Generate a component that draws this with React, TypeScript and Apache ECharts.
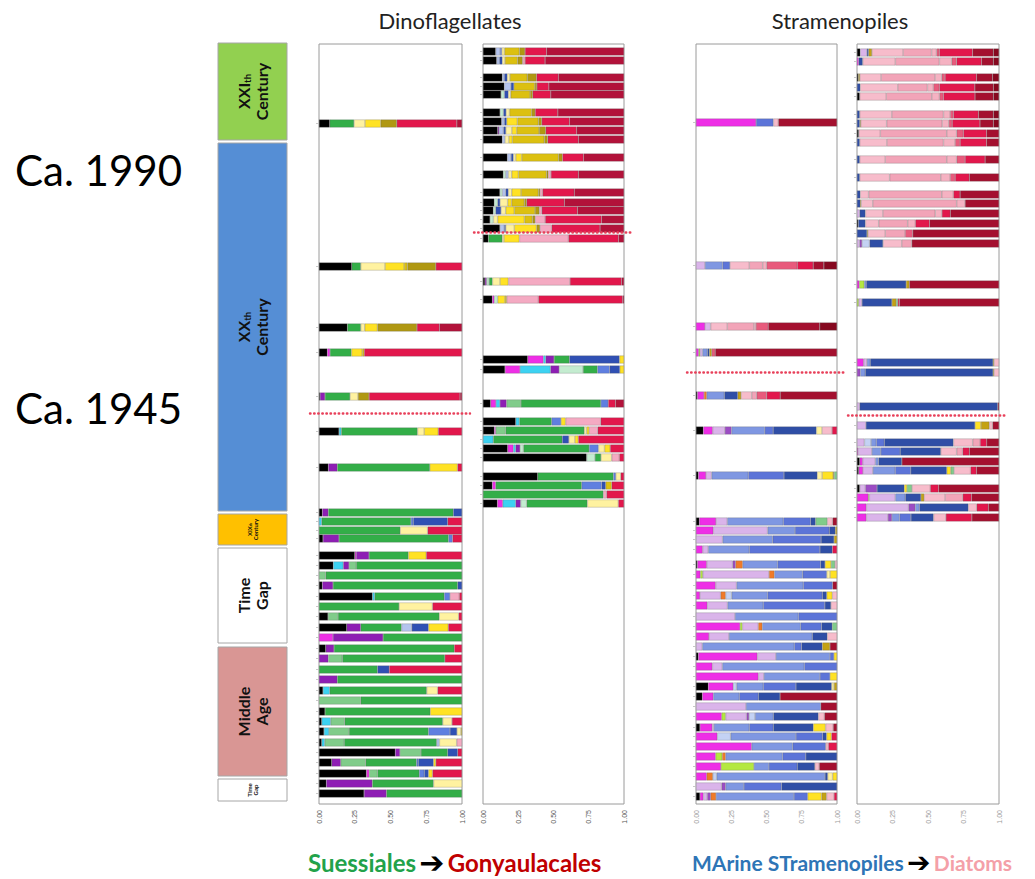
import React, { useEffect, useRef } from "react";
import * as echarts from "echarts";

type Row = [number, Record<string, number>];

// depth axis: sample position along the core (0 = top), 760 slots
const DEPTH_SLOTS = 760;

const dinoTaxa = ["K", "MG", "CY", "PU", "MT", "LG", "G", "LV", "CB", "DB", "LY", "Y", "GD", "OL", "LP", "CR", "DR"];
const dinoColors = ["#000000", "#ee2ee6", "#3cd2f2", "#8e1eb4", "#c4ecd0", "#80cc8a", "#33ae48", "#b4c4ee", "#5f7fe0", "#3050b4", "#fff2a0", "#ffe224", "#dcc010", "#b09812", "#f4aac2", "#e2174c", "#b2123a"];

const stramTaxa = ["K", "MG", "LM", "OR", "PU", "OG", "PB", "PW", "CB", "DB", "LY", "Y", "OL", "LG", "P1", "P2", "P3", "RS", "CR", "DR", "MR"];
const stramColors = ["#000000", "#ee2ee6", "#b4e840", "#dab4ea", "#9c4cc4", "#f07a28", "#c4d2f4", "#7f97e2", "#5c74d8", "#2f4ea6", "#fff2a0", "#ffe224", "#c4a214", "#80cc8a", "#f7bccb", "#f2a4b8", "#f5b2c2", "#e85a7c", "#e2174c", "#a4102f", "#86081f"];

// Dinoflagellates, core A
const dinoCoreA: Row[] = [
  [79, { K: .075, G: .17, LY: .077, Y: .11, OL: .112, CR: .42, DR: .036 }],
  [222, { K: .229, G: .063, LY: .17, Y: .133, GD: .023, OL: .199, CR: .183 }],
  [283, { K: .199, G: .093, LY: .028, Y: .089, OL: .276, CR: .157, DR: .158 }],
  [308, { K: .058, MG: .019, G: .15, Y: .075, GD: .014, CR: .684 }],
  [352, { K: .007, PU: .035, G: .175, LY: .056, OL: .077, CR: .636, DR: .014 }],
  [387, { K: .14, CY: .016, G: .533, LY: .047, Y: .098, CR: .166 }],
  [423, { K: .065, PU: .063, G: .647, Y: .194, CR: .031 }],
  [468, { K: .023, PU: .042, G: .874, DB: .061 }],
  [477, { CY: .019, G: .624, CB: .016, DB: .241, CR: .1 }],
  [486, { G: .568, LY: .192, CR: .24 }],
  [494, { K: .028, PU: .112, G: .766, CB: .028, CR: .066 }],
  [511, { K: .25, MG: .01, PU: .09, G: .275, Y: .125, CR: .25 }],
  [521, { K: .1, CY: .07, PU: .04, LG: .05, G: .74 }],
  [531, { LG: .047, G: .953 }],
  [541, { K: .023, PU: .075, G: .872, DB: .03 }],
  [552, { K: .374, CY: .016, G: .486, CB: .04, LP: .065, CR: .019 }],
  [562, { G: .56, LY: .234, CR: .206 }],
  [572, { K: .063, LG: .07, G: .708, LY: .136, CR: .023 }],
  [583, { K: .194, PU: .098, G: .285, LV: .072, DB: .117, Y: .138, CR: .096 }],
  [593, { MG: .098, PU: .35, G: .552 }],
  [604, { K: .047, PU: .058, G: .841, CR: .054 }],
  [614, { PU: .065, LG: .098, G: .717, CR: .12 }],
  [625, { G: .409, DB: .082, CR: .509 }],
  [635, { PU: .128, G: .872 }],
  [646, { K: .028, CY: .047, G: .678, LY: .077, CR: .17 }],
  [656, { LG: .292, G: .708 }],
  [667, { K: .042, G: .736, Y: .222 }],
  [677, { K: .019, CY: .063, LG: .098, G: .685, LY: .065, CR: .07 }],
  [687, { K: .035, CY: .035, LG: .14, G: .556, CB: .15, DB: .049, LY: .028, Y: .007 }],
  [698, { K: .019, CY: .021, LG: .136, G: .647, LV: .019, LY: .121, LP: .037 }],
  [708, { K: .533, PU: .033, LG: .147, G: .187, DB: .07, CR: .03 }],
  [718, { K: .089, PU: .063, LG: .175, G: .355, CB: .012, DB: .107, Y: .016, CR: .183 }],
  [729, { K: .332, MG: .019, LG: .058, G: .292, CB: .035, DB: .03, Y: .028, CR: .206 }],
  [739, { K: .051, PU: .322, G: .428, LY: .199 }],
  [749, { K: .315, PU: .157, G: .528 }],
];

// Dinoflagellates, core B
const dinoCoreB: Row[] = [
  [7, { K: .09, LV: .031, CB: .012, LY: .019, GD: .106, OL: .04, CR: .154, DR: .548 }],
  [16, { K: .097, LV: .019, DB: .021, LY: .019, GD: .09, OL: .035, LP: .017, CR: .142, DR: .56 }],
  [33, { K: .137, LV: .014, DB: .021, LY: .019, GD: .123, OL: .066, CR: .154, DR: .466 }],
  [42, { K: .151, LV: .047, DB: .021, GD: .149, OL: .014, CR: .085, DR: .533 }],
  [50, { K: .128, MT: .024, DB: .028, LY: .017, GD: .137, OL: .019, CR: .128, DR: .519 }],
  [68, { K: .121, MT: .024, DB: .019, LY: .024, GD: .158, OL: .024, CR: .161, DR: .469 }],
  [77, { K: .132, LV: .019, DB: .017, Y: .076, GD: .149, OL: .024, CR: .196, DR: .387 }],
  [86, { K: .104, PU: .01, LV: .031, DB: .017, LY: .043, Y: .035, GD: .158, OL: .047, CR: .22, DR: .335 }],
  [95, { K: .137, LV: .019, LY: .028, Y: .024, GD: .227, OL: .024, CR: .217, DR: .324 }],
  [113, { K: .173, LV: .026, DB: .017, LY: .017, Y: .043, GD: .26, OL: .028, CR: .149, DR: .287 }],
  [130, { K: .144, MT: .017, LV: .019, LY: .024, Y: .047, GD: .2, OL: .012, LP: .019, CR: .194, DR: .324 }],
  [148, { K: .12, MT: .017, LV: .024, DB: .019, LY: .024, Y: .066, GD: .123, OL: .012, LP: .017, CR: .225, DR: .353 }],
  [158, { K: .08, MT: .024, DB: .017, LY: .054, Y: .028, GD: .09, OL: .017, CR: .267, DR: .423 }],
  [166, { K: .073, MT: .017, DB: .038, LY: .033, Y: .061, GD: .147, OL: .031, LP: .017, CR: .253, DR: .33 }],
  [175, { K: .05, MT: .024, LY: .03, Y: .19, GD: .057, OL: .019, LP: .071, CR: .4, DR: .159 }],
  [184, { K: .12, LV: .031, DB: .01, LY: .061, Y: .158, OL: .024, LP: .083, CR: .343, DR: .17 }],
  [194, { K: .038, G: .099, LY: .012, Y: .109, LP: .348, CR: .355, DR: .039 }],
  [237, { K: .014, PU: .012, MT: .017, G: .024, LY: .054, Y: .059, LP: .437, CR: .366, DR: .017 }],
  [255, { K: .066, MG: .014, MT: .024, Y: .052, GD: .012, LP: .225, CR: .598, DR: .009 }],
  [315, { K: .317, MG: .111, CY: .017, PU: .059, G: .109, DB: .355, Y: .032 }],
  [325, { K: .156, MG: .106, CY: .217, PU: .061, MT: .17, G: .102, CB: .087, DB: .071, Y: .03 }],
  [359, { K: .054, MG: .038, CY: .028, PU: .047, LG: .102, G: .567, CB: .052, CR: .052, DR: .06 }],
  [377, { K: .232, CY: .026, G: .229, CB: .066, Y: .033, LP: .249, CR: .165 }],
  [386, { K: .08, MG: .01, LG: .071, G: .558, LY: .017, Y: .017, LP: .061, CR: .186 }],
  [395, { CY: .073, G: .489, DB: .047, LY: .043, Y: .024, CR: .324 }],
  [404, { K: .175, MG: .04, CY: .017, PU: .031, MT: .024, G: .466, CB: .066, LY: .043, Y: .04, CR: .098 }],
  [413, { K: .735, MT: .059, G: .043, LY: .076, LP: .054, CR: .033 }],
  [432, { K: .388, G: .537, CB: .017, LY: .035, CR: .023 }],
  [441, { K: .066, MG: .024, G: .61, CB: .142, DB: .028, GD: .043, CR: .087 }],
  [450, { G: .853, LP: .024, CR: .123 }],
  [459, { K: .102, MG: .038, CY: .092, PU: .035, MT: .043, G: .43, LY: .22, CR: .04 }],
];

// Stramenopiles, core A
const stramCoreA: Row[] = [
  [78, { MG: .426, CB: .123, P1: .035, DR: .416 }],
  [221, { OR: .064, PW: .125, CB: .052, P1: .137, P2: .095, P3: .028, RS: .217, CR: .113, DR: .076, MR: .093 }],
  [282, { MG: .064, OR: .04, P1: .118, P2: .189, P3: .014, RS: .087, DR: .366, MR: .122 }],
  [308, { LM: .01, MG: .019, OR: .017, PW: .035, DB: .014, OL: .017, RS: .024, DR: .864 }],
  [351, { K: .01, MG: .047, OG: .019, PW: .125, DB: .095, OL: .024, P1: .076, P2: .035, RS: .071, CR: .095, DR: .403 }],
  [386, { K: .052, MG: .066, OR: .087, PU: .047, PW: .236, CB: .059, DB: .307, LY: .04, P1: .071, CR: .035 }],
  [431, { K: .017, MG: .054, OR: .04, PW: .26, CB: .253, DB: .236, LY: .035, Y: .078, OL: .007, LG: .02 }],
  [477, { K: .024, MG: .118, OR: .08, PW: .397, CB: .194, DB: .035, LG: .083, P1: .038, DR: .031 }],
  [486, { MG: .123, OR: .385, PW: .194, CB: .243, DB: .043, OL: .012 }],
  [495, { OR: .189, PW: .355, CB: .343, DB: .092, OL: .021 }],
  [505, { MG: .047, OR: .04, PW: .291, CB: .501, DB: .088, CR: .033 }],
  [520, { K: .01, MG: .066, OR: .184, PU: .021, OG: .05, PW: .248, CB: .305, DB: .031, Y: .043, LG: .028, P1: .014 }],
  [530, { LM: .017, MG: .031, OR: .47, OG: .038, PW: .201, CB: .17, LY: .024, Y: .049 }],
  [541, { MG: .139, OR: .149, PW: .473, CB: .208, DR: .031 }],
  [551, { MG: .028, OR: .147, OG: .035, PB: .043, PW: .255, CB: .388, DB: .031, Y: .04, P1: .033 }],
  [561, { MG: .08, OR: .144, PW: .253, CB: .437, DB: .043, P1: .043 }],
  [572, { OR: .277, PW: .449, CB: .274 }],
  [582, { LM: .017, MG: .312, OR: .113, OG: .028, PW: .272, CB: .149, DB: .075, LG: .034 }],
  [592, { MG: .092, OR: .142, PW: .591, DB: .106, P1: .069 }],
  [602, { OR: .045, PW: .652, CB: .052, DB: .147, OL: .054, DR: .05 }],
  [612, { K: .017, MG: .418, OR: .132, PW: .383, CB: .028, Y: .022 }],
  [622, { MG: .116, OR: .071, PW: .581, CB: .232 }],
  [632, { MG: .442, OR: .04, PW: .397, CB: .071, Y: .05 }],
  [642, { K: .087, MG: .177, PB: .024, PW: .189, CB: .232, DB: .253, LY: .017, OL: .021 }],
  [652, { K: .045, MG: .078, PW: .184, CB: .135, DB: .154, DR: .404 }],
  [662, { OR: .355, PW: .53, DR: .115 }],
  [672, { LM: .028, MG: .182, OR: .149, PU: .017, PB: .043, PW: .13, DB: .319, P1: .043, DR: .089 }],
  [683, { K: .028, MG: .087, OR: .012, PW: .251, CB: .17, DB: .284, Y: .087, P1: .054, DR: .027 }],
  [692, { MG: .151, PB: .095, PW: .463, CB: .189, DB: .028, Y: .035, CR: .039 }],
  [702, { MG: .395, PW: .291, CB: .234, P1: .019, CR: .061 }],
  [712, { LM: .047, MG: .139, OG: .024, PW: .404, CB: .165, DB: .221 }],
  [722, { LM: .234, MG: .177, PW: .106, CB: .201, DB: .125, P1: .031, DR: .126 }],
  [732, { MG: .076, OG: .043, PB: .028, PW: .768, DB: .019, LY: .035, Y: .031 }],
  [742, { OR: .182, PU: .028, PW: .13, CB: .267, DB: .393 }],
  [752, { K: .028, MG: .024, OR: .028, PU: .024, OG: .038, PW: .553, CB: .097, Y: .099, OL: .035, P1: .053, CR: .021 }],
];

// Stramenopiles, core B
const stramCoreB: Row[] = [
  [8, { K: .023, OR: .047, DB: .012, OL: .023, P1: .22, P2: .2, P3: .035, RS: .02, CR: .235, DR: .145, MR: .04 }],
  [17, { MG: .012, DB: .028, P1: .23, P2: .31, P3: .087, RS: .035, CR: .176, DR: .082, MR: .04 }],
  [33, { K: .01, OL: .01, P1: .15, P2: .38, P3: .047, RS: .023, CR: .222, DR: .113, MR: .045 }],
  [43, { DB: .023, P1: .265, P2: .208, P3: .042, RS: .042, CR: .25, DR: .13, MR: .04 }],
  [52, { K: .019, P1: .187, P2: .321, P3: .054, RS: .028, CR: .222, DR: .129, MR: .04 }],
  [70, { DB: .019, P1: .227, P2: .363, P3: .047, RS: .023, CR: .176, DR: .105, MR: .04 }],
  [79, { DB: .019, OL: .007, P1: .183, P2: .391, P3: .047, RS: .023, CR: .196, DR: .094, MR: .04 }],
  [89, { K: .012, P1: .152, P2: .468, P3: .07, RS: .047, CR: .164, DR: .087 }],
  [98, { DB: .019, P1: .192, P2: .398, P3: .082, RS: .035, CR: .187, DR: .087 }],
  [115, { DB: .019, P1: .18, P2: .433, P3: .07, RS: .059, CR: .141, DR: .098 }],
  [133, { DB: .019, P1: .211, P2: .36, P3: .066, RS: .035, CR: .1, DR: .209 }],
  [150, { DB: .023, P1: .059, P2: .515, P3: .082, CR: .047, DR: .274 }],
  [159, { DB: .023, OL: .007, P1: .082, P2: .59, P3: .059, DR: .239 }],
  [169, { OR: .019, DB: .04, P1: .124, P2: .368, P3: .047, CR: .059, DR: .343 }],
  [179, { K: .009, DB: .05, P1: .094, P2: .204, P3: .054, CR: .1, DR: .489 }],
  [189, { DB: .07, OL: .007, P1: .122, P2: .14, RS: .054, DR: .607 }],
  [199, { OR: .019, PU: .016, PB: .054, DB: .094, P1: .133, P2: .07, DR: .614 }],
  [240, { LM: .035, MG: .016, PW: .014, DB: .281, OL: .023, DR: .631 }],
  [258, { LM: .012, OR: .023, DB: .211, OL: .03, LG: .012, CR: .012, DR: .7 }],
  [318, { MG: .047, OR: .023, PW: .023, DB: .865, OL: .007, P1: .035 }],
  [328, { PU: .023, PW: .035, DB: .9, OL: .007, P1: .035 }],
  [362, { OR: .019, DB: .972, DR: .009 }],
  [381, { OR: .063, DB: .768, Y: .042, OL: .059, P1: .023, DR: .045 }],
  [398, { OR: .052, PB: .047, PW: .037, CB: .056, DB: .487, P1: .136, P2: .052, CR: .047, DR: .086 }],
  [407, { MG: .007, OR: .098, PW: .063, CB: .136, DB: .286, P1: .112, P2: .042, CR: .047, DR: .209 }],
  [417, { K: .019, MG: .021, OR: .089, PW: .023, DB: .164, DR: .684 }],
  [426, { K: .012, MG: .03, OR: .07, PW: .157, CB: .11, DB: .253, Y: .028, LG: .023, P1: .117, CR: .042, DR: .158 }],
  [444, { K: .019, OR: .04, PU: .082, DB: .192, Y: .019, LG: .035, P1: .129, CR: .059, DR: .425 }],
  [453, { LM: .007, MG: .08, OR: .183, PW: .07, DB: .11, OL: .023, P1: .148, P2: .124, CR: .063, DR: .192 }],
  [463, { MG: .066, OR: .297, PU: .047, PW: .03, DB: .344, P1: .059, CR: .082, DR: .075 }],
  [473, { MG: .066, OR: .152, PU: .028, PW: .054, CB: .08, DB: .159, P1: .087, CR: .183, DR: .191 }],
];

// depth of the marked transition in each panel
const transitionDepth = [369, 188, 328, 371];

const periodNames = ["XXIth Century", "XXth Century", "XIXth Century", "Time Gap", "Middle Age", "Time Gap"];

const panelRows = [dinoCoreA, dinoCoreB, stramCoreA, stramCoreB];
const panelTaxa = [dinoTaxa, dinoTaxa, stramTaxa, stramTaxa];
const panelColors = [dinoColors, dinoColors, stramColors, stramColors];

const GRID_TOP = 44;
const GRID_H = 760;
const gridBoxes = [
  { left: 319, width: 143 },
  { left: 483, width: 141 },
  { left: 696, width: 141 },
  { left: 857, width: 142 },
];
const labelColors = ["#555", "#555", "#9a9a9a", "#9a9a9a"];

const FONT = "Lato, 'DejaVu Sans', sans-serif";

function buildOption() {
  const cats = Array.from({ length: DEPTH_SLOTS }, (_, i) => String(i));
  const grid: any[] = [];
  const xAxis: any[] = [];
  const yAxis: any[] = [];
  const series: any[] = [];
  gridBoxes.forEach((g, p) => {
    grid.push({
      left: g.left, width: g.width, top: GRID_TOP, height: GRID_H,
      show: true, borderColor: "#9a9a9a", borderWidth: 1, backgroundColor: "#fff",
    });
    xAxis.push({
      gridIndex: p, type: "value", min: 0, max: 1, interval: 0.25,
      splitLine: { show: false }, axisLine: { show: false }, axisTick: { show: false },
      axisLabel: {
        rotate: 90, fontSize: 7, color: labelColors[p], margin: 6,
        fontFamily: "'Liberation Sans', sans-serif",
        formatter: (v: number) => v.toFixed(2),
      },
    });
    const rowSet = new Set(panelRows[p].map((r) => r[0]));
    yAxis.push({
      gridIndex: p, type: "category", data: cats, inverse: true,
      axisLine: { show: false },
      axisLabel: { show: false },
      splitLine: { show: false },
      axisTick: {
        show: true, alignWithLabel: true, length: 3, inside: false,
        lineStyle: { color: "#c8c8c8", width: 1 },
        interval: (idx: number) => rowSet.has(idx),
      },
    });
    panelTaxa[p].forEach((taxon, t) => {
      const data: (number | null)[] = new Array(DEPTH_SLOTS).fill(null);
      let any = false;
      panelRows[p].forEach(([d, v]) => {
        if (v[taxon] !== undefined) { data[d] = v[taxon]; any = true; }
      });
      if (!any) return;
      series.push({
        type: "bar", name: taxon, xAxisIndex: p, yAxisIndex: p,
        stack: "panel" + p, barWidth: 8, data,
        itemStyle: { color: panelColors[p][t], borderColor: "rgba(90,90,90,0.5)", borderWidth: 0.5 },
        emphasis: { disabled: true },
      });
    });
  });
  return { animation: false, grid, xAxis, yAxis, series };
}

function buildGraphics(chart: echarts.ECharts) {
  const g: any[] = [];
  // titles
  g.push({ type: "text", x: 450, y: 20, style: { text: "Dinoflagellates", font: `22px ${FONT}`, fill: "#222", textAlign: "center", textVerticalAlign: "middle" } });
  g.push({ type: "text", x: 840, y: 20, style: { text: "Stramenopiles", font: `22px ${FONT}`, fill: "#222", textAlign: "center", textVerticalAlign: "middle" } });
  // big year labels
  g.push({ type: "text", x: 15, y: 170, style: { text: "Ca. 1990", font: `42px ${FONT}`, fill: "#000", textVerticalAlign: "middle" } });
  g.push({ type: "text", x: 15, y: 408, style: { text: "Ca. 1945", font: `42px ${FONT}`, fill: "#000", textVerticalAlign: "middle" } });
  // period boxes
  const boxes = [
    { y: 43, h: 97, fill: "#92d050", big: true },
    { y: 143, h: 368, fill: "#558ed5", big: true },
    { y: 514, h: 31, fill: "#ffc000", big: false },
    { y: 548, h: 95, fill: "#ffffff", big: true },
    { y: 647, h: 129, fill: "#d99694", big: true },
    { y: 779, h: 22, fill: "#ffffff", big: false },
  ];
  boxes.forEach((b, i) => {
    g.push({ type: "rect", shape: { x: 218, y: b.y, width: 69, height: b.h }, style: { fill: b.fill, stroke: "#a6a6a6", lineWidth: 1 } });
    const name = periodNames[i];
    const parts = name.split(" ");
    let text: string;
    const fs = b.big ? 16 : 6;
    const m = parts[0].match(/^([XI]+)(th)$/);
    if (m) text = `{b|${m[1]}}{s|${m[2]}}\n{b|${parts[1]}}`;
    else text = `{b|${parts[0]}}\n{b|${parts[1]}}`;
    g.push({
      type: "text", x: 252.5, y: b.y + b.h / 2, rotation: Math.PI / 2,
      style: {
        text, textAlign: "center", textVerticalAlign: "middle", fill: "#111",
        rich: {
          b: { fontSize: fs, fontWeight: "bold", fontFamily: FONT, lineHeight: fs * 1.15, fill: "#111" },
          s: { fontSize: fs * 0.6, fontWeight: "bold", fontFamily: FONT, lineHeight: fs * 1.15, fill: "#111", verticalAlign: "bottom" },
        },
      },
    });
  });
  // transition dotted lines
  transitionDepth.forEach((d, p) => {
    const y = chart.convertToPixel({ yAxisIndex: p } as any, String(d)) as unknown as number;
    const gb = gridBoxes[p];
    g.push({
      type: "line", shape: { x1: gb.left - 9, y1: y, x2: gb.left + gb.width + 8, y2: y },
      style: { stroke: "#e8405a", lineWidth: 2.4, lineDash: [0.5, 3.6], lineCap: "round" }, z: 10,
    });
  });
  // bottom captions
  g.push({
    type: "text", x: 308, y: 862,
    style: {
      text: "{g|Suessiales} {a|➔} {r|Gonyaulacales}", textVerticalAlign: "middle",
      rich: {
        g: { fontSize: 24, fontWeight: "bold", fontFamily: FONT, fill: "#22a24a" },
        a: { fontSize: 30, fontWeight: "bold", fontFamily: "'DejaVu Sans', sans-serif", fill: "#000" },
        r: { fontSize: 24, fontWeight: "bold", fontFamily: FONT, fill: "#c00000" },
      },
    },
  });
  g.push({
    type: "text", x: 692, y: 862,
    style: {
      text: "{b|MArine STramenopiles} {a|➔} {p|Diatoms}", textVerticalAlign: "middle",
      rich: {
        b: { fontSize: 21, fontWeight: "bold", fontFamily: FONT, fill: "#2e75b6" },
        a: { fontSize: 28, fontWeight: "bold", fontFamily: "'DejaVu Sans', sans-serif", fill: "#000" },
        p: { fontSize: 21, fontWeight: "bold", fontFamily: FONT, fill: "#f4a0a8" },
      },
    },
  });
  return g;
}

export default function App() {
  const ref = useRef<HTMLDivElement>(null);
  useEffect(() => {
    if (!ref.current) return;
    const chart = echarts.init(ref.current, undefined, { renderer: "svg" });
    chart.setOption(buildOption());
    chart.setOption({ graphic: buildGraphics(chart) });
    return () => chart.dispose();
  }, []);
  return (
    <div
      ref={ref}
      style={{ position: "absolute", left: 0, top: 0, width: 1035, height: 879, background: "#fff", overflow: "hidden" }}
    />
  );
}
